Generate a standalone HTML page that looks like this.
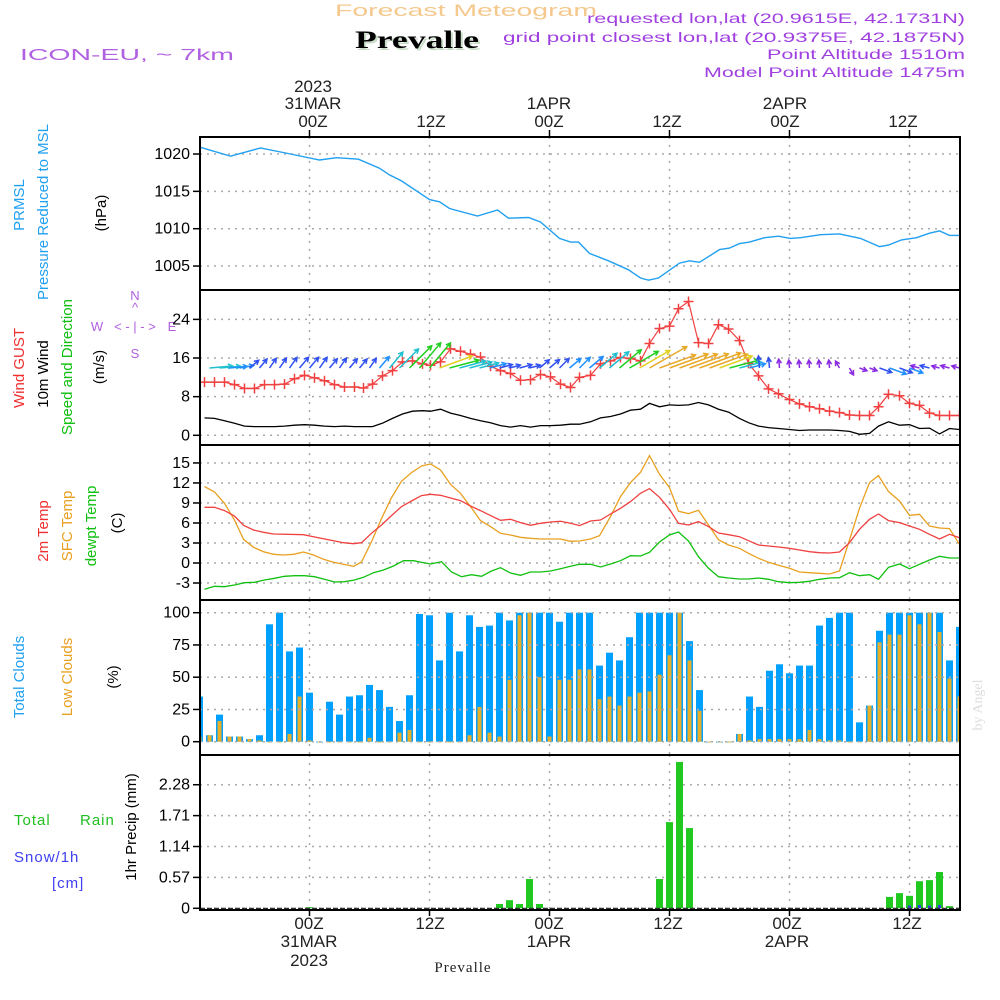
<!DOCTYPE html>
<html><head><meta charset="utf-8"><style>
html,body{margin:0;padding:0;background:#fff;}
svg{display:block;font-family:"Liberation Sans",sans-serif;}
</style></head><body>
<svg id="chart" xmlns="http://www.w3.org/2000/svg" width="1000" height="1000" viewBox="0 0 1000 1000">
<rect x="0" y="0" width="1000" height="1000" fill="#fff"/>
<text x="335" y="16" font-size="17" fill="#f5c88e" textLength="262" lengthAdjust="spacingAndGlyphs">Forecast Meteogram</text>
<text x="357" y="50" font-size="25" font-weight="bold" fill="#c8dcc8" font-family="Liberation Serif, serif" textLength="124" lengthAdjust="spacingAndGlyphs">Prevalle</text>
<text x="355" y="48" font-size="25" font-weight="bold" fill="#000" font-family="Liberation Serif, serif" textLength="124" lengthAdjust="spacingAndGlyphs">Prevalle</text>
<text x="20" y="60" font-size="16" fill="#b060e0" textLength="214" lengthAdjust="spacingAndGlyphs">ICON-EU, ~ 7km</text>
<g fill="#a040e0" font-size="14">
<text x="587" y="23" textLength="378" lengthAdjust="spacingAndGlyphs">requested lon,lat (20.9615E, 42.1731N)</text>
<text x="503" y="42" textLength="462" lengthAdjust="spacingAndGlyphs">grid point closest lon,lat (20.9375E, 42.1875N)</text>
<text x="767" y="59" textLength="198" lengthAdjust="spacingAndGlyphs">Point Altitude 1510m</text>
<text x="704" y="77" textLength="261" lengthAdjust="spacingAndGlyphs">Model Point Altitude 1475m</text>
</g>
<g id="top-axis" fill="#222" font-size="17" text-anchor="middle">
<text x="313" y="92">2023</text>
<text x="313" y="109">31MAR</text>
<text x="549" y="109">1APR</text>
<text x="785" y="109">2APR</text>
<text x="313" y="127">00Z</text>
<text x="431" y="127">12Z</text>
<text x="549" y="127">00Z</text>
<text x="667" y="127">12Z</text>
<text x="785" y="127">00Z</text>
<text x="903" y="127">12Z</text>
</g>
<g id="bottom-axis" fill="#222" font-size="17" text-anchor="middle">
<text x="309" y="929">00Z</text>
<text x="430" y="929">12Z</text>
<text x="549" y="929">00Z</text>
<text x="668" y="929">12Z</text>
<text x="787" y="929">00Z</text>
<text x="907" y="929">12Z</text>
<text x="309" y="947">31MAR</text>
<text x="549" y="947">1APR</text>
<text x="787" y="947">2APR</text>
<text x="309" y="966">2023</text>
<text x="463" y="972" font-size="15" font-family="Liberation Serif, serif" letter-spacing="1">Prevalle</text>
</g>
<g font-size="15">
<text transform="translate(24,205) rotate(-90)" text-anchor="middle" fill="#20a0f0">PRMSL</text>
<text transform="translate(48,212) rotate(-90)" text-anchor="middle" fill="#20a0f0">Pressure Reduced to MSL</text>
<text transform="translate(106,213) rotate(-90)" text-anchor="middle" fill="#000">(hPa)</text>
<text transform="translate(24,368) rotate(-90)" text-anchor="middle" fill="#f03030">Wind GUST</text>
<text transform="translate(48,374) rotate(-90)" text-anchor="middle" fill="#000">10m Wind</text>
<text transform="translate(72,367) rotate(-90)" text-anchor="middle" fill="#10c010">Speed and Direction</text>
<text transform="translate(104,367) rotate(-90)" text-anchor="middle" fill="#000">(m/s)</text>
<text transform="translate(48,531) rotate(-90)" text-anchor="middle" fill="#f03030">2m Temp</text>
<text transform="translate(72,526) rotate(-90)" text-anchor="middle" fill="#e8a020">SFC Temp</text>
<text transform="translate(96,526) rotate(-90)" text-anchor="middle" fill="#10c010">dewpt Temp</text>
<text transform="translate(122,523) rotate(-90)" text-anchor="middle" fill="#000">(C)</text>
<text transform="translate(24,677) rotate(-90)" text-anchor="middle" fill="#20a0f0">Total Clouds</text>
<text transform="translate(72,677) rotate(-90)" text-anchor="middle" fill="#e8a020">Low Clouds</text>
<text transform="translate(118,677) rotate(-90)" text-anchor="middle" fill="#000">(%)</text>
<text transform="translate(136,827) rotate(-90)" text-anchor="middle" fill="#000">1hr Precip (mm)</text>
</g>
<g font-size="15" letter-spacing="1">
<text x="14" y="825" fill="#20c020">Total</text>
<text x="80" y="825" fill="#20c020">Rain</text>
<text x="14" y="862" fill="#4040f0">Snow/1h</text>
<text x="52" y="888" fill="#4040f0">[cm]</text>
</g>
<g id="compass" fill="#b060e0" font-size="13" text-anchor="middle">
<text x="135" y="300">N</text>
<text x="135" y="312">^</text>
<text x="135" y="331">&lt; - | - &gt;</text>
<text x="97" y="331">W</text>
<text x="172" y="331">E</text>
<text x="135" y="358">S</text>
</g>
<text transform="translate(982,705) rotate(-90)" text-anchor="middle" font-size="14" fill="#ddd" font-family="Liberation Serif, serif">by Angel</text>
<g id="plots"></g>
</svg>
<script>
// ---- data (hours relative to 31MAR 00Z) ----
const pressHours = [-10.9,-7.9,-4.9,-1.9,1.0,2.7,4.9,7.0,8.0,9.2,12.0,13.0,14.0,16.8,18.8,19.9,21.9,23.1,25.0,26.1,26.9,28.0,29.9,31.9,33.1,33.9,34.9,37.0,38.0,39.0,41.0,42.0,43.0,44.0,45.5,46.9,48.1,49.1,51.1,53.0,55.1,57.0,57.9,59.2,60.7,62.0,63.0,64.0,65.0];
const pressVals = [1020.9,1019.7,1020.8,1020.0,1019.2,1019.5,1019.3,1018.1,1017.2,1016.4,1013.9,1013.6,1012.7,1011.7,1012.5,1011.4,1011.5,1010.9,1008.7,1008.2,1008.2,1006.7,1005.7,1004.5,1003.4,1003.1,1003.4,1005.4,1005.7,1005.5,1007.2,1007.4,1008.0,1008.2,1008.8,1009.0,1008.7,1008.8,1009.2,1009.3,1008.7,1007.6,1007.8,1008.5,1008.8,1009.4,1009.7,1009.1,1009.1];
const pressTicks = [1020,1015,1010,1005];

const windHours = [-10.5,-9.5,-8.5,-7.5,-6.5,-5.5,-4.5,-3.5,-2.5,-1.5,-0.5,0.5,1.5,2.5,3.5,4.5,5.4,6.3,7.3,8.3,9.3,10.3,11.3,12.1,13.1,14.1,15.1,16.1,17.1,18.1,19.1,20.1,21.1,22.1,23.1,24.1,25.1,26.1,27.0,28.1,29.1,30.1,31.1,32.1,33.1,34.0,35.0,36.0,36.9,37.9,38.9,39.9,40.9,41.9,43.0,43.9,44.9,45.9,46.9,48.0,49.0,50.0,51.0,52.0,53.0,54.0,55.0,56.0,56.9,57.9,59.0,60.0,61.0,62.0,63.0,64.0,65.0];
const gustVals = [11.0,11.0,11.0,10.5,9.7,9.7,10.5,10.5,10.6,11.7,12.4,11.9,11.3,10.5,10.0,10.0,9.8,10.6,12.3,13.4,15.2,15.4,14.8,14.5,15.2,17.9,17.4,16.8,16.2,14.3,13.4,12.8,11.4,11.5,12.6,12.1,10.6,9.9,12.0,12.4,14.8,15.4,16.1,15.9,15.4,19.0,22.1,22.6,26.2,27.7,19.2,19.0,22.9,22.0,19.6,14.9,12.3,9.6,8.6,7.4,6.5,5.9,5.5,5.0,4.7,4.2,4.1,4.1,5.9,8.5,8.2,6.6,6.2,4.6,4.1,4.1,4.1];
const wind10Vals = [3.6,3.5,3.0,2.5,1.9,1.8,1.8,1.8,1.9,2.1,2.2,2.1,1.9,1.8,1.9,1.8,1.8,1.8,2.5,3.5,4.4,5.0,5.1,5.0,5.4,4.6,4.1,3.5,3.0,2.6,2.0,1.7,2.0,1.7,2.0,2.0,2.1,2.3,2.3,2.8,3.6,3.9,4.4,5.2,5.4,6.6,5.9,6.3,6.2,6.3,6.8,6.3,5.4,4.8,3.5,2.6,1.9,1.6,1.4,1.2,1.0,1.1,1.1,1.1,1.0,0.8,0.2,0.4,1.9,2.8,2.1,2.2,1.4,1.5,0.3,1.4,1.2];
const windTicks = [24,16,8,0];
const arrowStart = -10;
const arrowDir = [5,5,5,10,40,50,55,55,55,50,50,55,50,55,50,50,55,50,50,45,45,50,50,20,15,15,15,15,15,15,15,15,15,40,40,45,40,45,40,40,40,40,30,30,30,20,20,20,20,20,20,20,15,15,15,95,95,95,95,95,95,95,95,120,-60,-20,-20,-20,-20,-20,-20,165,165,165,165,165];

const t2Hours = [-10.5,-9.5,-8.5,-7.5,-6.6,-5.6,-4.6,-3.6,-0.6,0.4,1.4,2.4,3.4,4.4,5.2,6.2,7.2,8.2,9.2,10.2,11.2,12.1,13.1,14.1,15.1,16.1,17.1,18.1,19.1,20.1,21.1,22.1,23.1,24.1,25.1,26.1,27.0,28.1,29.1,30.1,31.1,32.1,33.1,34.0,35.0,36.0,36.9,37.9,38.9,39.9,40.9,41.9,43.0,43.9,44.9,45.9,46.9,48.0,49.0,50.0,51.0,52.0,53.0,54.0,55.0,56.0,56.9,57.9,59.0,60.0,61.0,62.0,63.0,64.0,65.0];
const t2Vals = [8.35,8.35,7.85,7.05,5.65,4.95,4.6,4.35,4.25,3.95,3.65,3.35,3.05,2.9,3.05,4.45,5.7,7.1,8.45,9.3,10.1,10.3,10.15,9.75,9.35,8.55,7.85,7.1,6.4,6.55,6.05,5.65,5.95,6.15,6.25,5.95,5.6,6.3,6.45,7.35,8.2,9.2,10.45,11.15,9.85,8.05,5.95,5.7,6.2,5.45,4.5,4.25,3.95,3.35,2.7,2.55,2.4,2.2,1.95,1.7,1.55,1.5,1.65,3.05,5.05,6.55,7.35,6.35,6.05,5.55,5.05,4.3,3.6,4.3,3.8];
const sfcHours = [-10.5,-9.5,-8.5,-7.5,-6.6,-5.6,-4.6,-3.6,-2.6,-1.6,-0.6,0.4,1.4,2.4,3.4,4.4,5.2,6.2,7.2,8.2,9.2,10.2,11.2,12.1,13.1,14.1,15.1,16.1,17.1,18.1,19.1,20.1,21.1,22.1,23.1,24.1,25.1,26.1,27.0,28.1,29.0,30.1,31.1,32.1,33.1,34.0,35.0,36.0,36.9,37.9,38.9,39.9,40.9,41.9,43.0,43.9,44.9,45.9,46.9,48.0,49.0,50.0,51.0,52.0,53.0,54.0,55.0,56.0,56.9,57.9,59.0,60.0,61.0,62.0,63.0,64.0,65.0];
const sfcVals = [11.45,10.65,8.95,6.45,3.55,2.35,1.7,1.3,1.2,1.3,1.65,1.2,0.55,0.1,-0.2,-0.5,0.15,3.2,6.65,9.8,12.25,13.55,14.55,14.85,13.95,11.8,10.45,8.45,6.35,5.45,4.45,4.2,3.85,3.7,3.6,3.6,3.6,3.25,3.3,3.6,4.1,6.95,9.95,12.05,13.6,16.1,13.3,11.3,7.75,7.4,7.9,5.7,3.5,2.7,2.2,1.45,0.7,0.1,-0.35,-0.8,-1.35,-1.45,-1.55,-1.65,-1.2,3.45,8.2,12.05,13.1,10.7,9.3,7.15,7.3,5.55,5.25,5.15,2.8];
const dewHours = [-10.5,-9.5,-8.5,-7.5,-6.5,-5.5,-4.5,-3.5,-2.5,-1.5,-0.5,0.5,1.5,2.5,3.5,4.5,5.4,6.4,7.4,8.4,9.4,10.4,11.4,12.1,13.2,14.2,15.2,16.2,17.2,18.2,19.1,20.1,21.1,22.1,23.1,24.1,25.1,26.1,27.0,28.1,29.1,30.1,31.1,32.1,33.1,34.0,35.0,36.0,36.9,37.9,38.9,39.9,40.9,41.9,43.0,43.9,44.9,45.9,46.9,48.0,49.0,50.0,51.0,52.0,53.0,54.0,55.0,56.0,56.9,57.9,59.0,60.0,61.0,62.0,63.0,64.0,65.0];
const dewVals = [-3.95,-3.5,-3.55,-3.3,-2.95,-2.9,-2.55,-2.3,-2.0,-1.9,-1.9,-2.05,-2.45,-2.85,-2.8,-2.55,-2.15,-1.45,-1.05,-0.45,0.35,0.35,0.05,-0.15,0.2,-1.35,-2.05,-1.75,-2.0,-1.2,-0.7,-1.5,-1.85,-1.35,-1.35,-1.2,-0.85,-0.5,-0.2,-0.2,-0.6,-0.15,0.35,1.1,1.05,1.6,3.15,4.2,4.65,3.3,0.95,-0.8,-2.05,-2.25,-2.4,-2.4,-2.25,-2.45,-2.8,-2.95,-2.9,-2.75,-2.45,-2.25,-2.2,-1.45,-1.9,-1.75,-2.45,-0.65,-0.15,-0.85,-0.2,0.45,1.0,0.75,0.75];
const tempTicks = [15,12,9,6,3,0,-3];

const cloudStart = -11;
const totalClouds = [35,5,21,4,4,2,5,91,100,70,73,38,0,31,21,35,36,44,40,27,16,36,99,98,63,100,70,98,89,90,100,94,100,100,100,100,93,100,100,100,59,69,63,81,100,100,100,100,100,78,40,0,0,0,6,35,27,55,60,53,59,59,90,96,100,100,15,28,86,100,100,100,100,100,100,63,89];
const lowClouds = [4,5,16,4,4,2,1,0,0,6,35,1,0,0,0,0,0,3,0,0,7,9,0,0,0,0,0,5,27,7,4,48,98,100,50,4,48,48,56,56,33,35,28,35,38,39,52,67,100,63,24,0,0,0,6,1,2,2,2,2,2,9,2,1,1,0,0,28,77,83,83,98,91,100,85,49,35];
const cloudTicks = [100,75,50,25,0];

const rainHours = [0,19,20,21,22,23,35,36,37,38,58,59,60,61,62,63,64];
const rainVals = [0.02,0.08,0.15,0.08,0.54,0.08,0.54,1.59,2.70,1.48,0.21,0.28,0.23,0.50,0.52,0.67,0.04];
const snowHours = [60,61,62,63];
const snowVals = [0.05,0.06,0.05,0.06];
const precipTicks = [2.28,1.71,1.14,0.57,0];

const gridHours = [0,12,24,36,48,60];

const L = 200, R = 960;
const xH = h => 309.5 + 10 * h;
const yP = p => 154 + (1020 - p) * 7.47;
const yW = v => 435.3 - v * 4.83;
const yT = t => 563 - t * 6.67;
const yC = c => 741.7 - c * 1.29;
const yR = r => 908.3 - r * 54.2;
const panels = [[137,290],[290,445],[445,600],[600,755],[755,910]];

const NS = 'http://www.w3.org/2000/svg';
const plots = document.getElementById('plots');
function mk(tag, attrs, parent) {
  const el = document.createElementNS(NS, tag);
  for (const k in attrs) el.setAttribute(k, attrs[k]);
  (parent || plots).appendChild(el);
  return el;
}
const clip = mk('clipPath', {id: 'plotclip'});
mk('rect', {x: L, y: 137, width: R - L, height: 773}, clip);

function hGrid(vals, yf, name) {
  vals.forEach(v => {
    const y = yf(v);
    const g = mk('line', {x1: L, x2: R, y1: y, y2: y, stroke: '#aaa', 'stroke-width': 1.5, 'stroke-dasharray': '2,5'});
    
    
    const tk = mk('line', {x1: L - 7, x2: L, y1: y, y2: y, stroke: '#000', 'stroke-width': 1.5});
    
    
    const t = mk('text', {x: L - 10, y: y + 5, 'text-anchor': 'end', 'font-size': 16, fill: '#000'});
    
    
    t.textContent = String(v);
  });
}
function vGrid() {
  panels.forEach(([a, b]) => {
    gridHours.forEach(h => {
      const g = mk('line', {x1: xH(h), x2: xH(h), y1: a, y2: b, stroke: '#aaa', 'stroke-width': 1.5, 'stroke-dasharray': '2,6'});
      
      
    });
  });
}
function line(hs, vs, yf, color, name, w) {
  const d = hs.map((h, i) => (i ? 'L' : 'M') + xH(h).toFixed(1) + ',' + yf(vs[i]).toFixed(1)).join('');
  const p = mk('path', {d: d, fill: 'none', stroke: color, 'stroke-width': w || 1.3, 'clip-path': 'url(#plotclip)'});
  
  
  return p;
}
function interp(hs, vs, h) {
  if (h <= hs[0]) return vs[0];
  for (let i = 1; i < hs.length; i++) if (h <= hs[i]) {
    const f = (h - hs[i-1]) / (hs[i] - hs[i-1]);
    return vs[i-1] + f * (vs[i] - vs[i-1]);
  }
  return vs[vs.length - 1];
}

vGrid();
hGrid(pressTicks, yP, 'pressure');
line(pressHours, pressVals, yP, '#20a0f0', 'pressure-line', 1.4);
hGrid(windTicks, yW, 'wind');
line(windHours, wind10Vals, yW, '#000', 'wind-10m-line', 1.3);
line(windHours, gustVals, yW, '#f04040', 'wind-gust-line', 1.2);
windHours.forEach((h, i) => {
  const x = xH(h), y = yW(gustVals[i]);
  const m = mk('path', {d: 'M' + (x-5) + ',' + y + 'h10M' + x + ',' + (y-5) + 'v10', stroke: '#f04040', 'stroke-width': 1.5, 'clip-path': 'url(#plotclip)'});
  
  
});
function speedColor(s) {
  if (s < 1.5) return '#8a2be2';
  if (s < 2.2) return '#3050f0';
  if (s < 2.8) return '#2090ff';
  if (s < 4.2) return '#20c0d0';
  if (s < 5.2) return '#20d020';
  if (s < 5.8) return '#e0d020';
  return '#e8a828';
}
arrowDir.forEach((deg, i) => {
  const h = arrowStart + i;
  const s = interp(windHours, wind10Vals, h);
  const len = Math.max(8, s * 6.5);
  const a = deg * Math.PI / 180;
  const x0 = xH(h), y0 = 368;
  const x1 = x0 + len * Math.cos(a), y1 = y0 - len * Math.sin(a);
  const hl = 5, b1 = a + Math.PI - 0.5, b2 = a + Math.PI + 0.5;
  const d = 'M' + x0.toFixed(1) + ',' + y0 + 'L' + x1.toFixed(1) + ',' + y1.toFixed(1) +
    'M' + (x1 + hl*Math.cos(b1)).toFixed(1) + ',' + (y1 - hl*Math.sin(b1)).toFixed(1) + 'L' + x1.toFixed(1) + ',' + y1.toFixed(1) +
    'L' + (x1 + hl*Math.cos(b2)).toFixed(1) + ',' + (y1 - hl*Math.sin(b2)).toFixed(1);
  const p = mk('path', {d: d, fill: 'none', stroke: speedColor(s), 'stroke-width': 1.5, 'clip-path': 'url(#plotclip)'});
  
  
});
hGrid(tempTicks, yT, 'temp');
line(sfcHours, sfcVals, yT, '#e8a020', 'sfc-temp-line', 1.3);
line(t2Hours, t2Vals, yT, '#f04040', 't2m-line', 1.3);
line(dewHours, dewVals, yT, '#10c010', 'dewpoint-line', 1.3);
totalClouds.forEach((c, i) => {
  const h = cloudStart + i, x = xH(h);
  const r = mk('rect', {x: x - 3.5, y: yC(c), width: 7, height: Math.max(0.8, yC(0) - yC(c)), fill: '#00a0ff', 'clip-path': 'url(#plotclip)'});
  
  
});
lowClouds.forEach((c, i) => {
  const h = cloudStart + i, x = xH(h);
  const r = mk('rect', {x: x - 2, y: yC(c), width: 4, height: Math.max(0.8, yC(0) - yC(c)), fill: '#e8b028', 'clip-path': 'url(#plotclip)'});
  
  
});
hGrid(cloudTicks, yC, 'clouds');
hGrid(precipTicks, yR, 'precip');
rainHours.forEach((h, i) => {
  const x = xH(h);
  const r = mk('rect', {x: x - 3.5, y: yR(rainVals[i]), width: 7, height: yR(0) - yR(rainVals[i]), fill: '#20c820', 'clip-path': 'url(#plotclip)'});
  
  
});
snowHours.forEach((h, i) => {
  const x = xH(h);
  const r = mk('rect', {x: x - 1.5, y: yR(snowVals[i]), width: 3, height: yR(0) - yR(snowVals[i]), fill: '#3040f0'});
  
  
});
const zl = mk('line', {x1: L, x2: R, y1: 908.5, y2: 908.5, stroke: '#333', 'stroke-width': 1.5, 'stroke-dasharray': '5,2'});


panels.forEach(([a, b], i) => {
  const r = mk('rect', {x: L, y: a, width: R - L, height: b - a, fill: 'none', stroke: '#000', 'stroke-width': 2});
  
  
});
gridHours.forEach(h => {
  const t = mk('line', {x1: xH(h), x2: xH(h), y1: 130, y2: 137, stroke: '#000', 'stroke-width': 1.5});
  
  
  const b = mk('line', {x1: xH(h), x2: xH(h), y1: 910, y2: 916, stroke: '#000', 'stroke-width': 1.5});
  
  
});
</script>
</body></html>
